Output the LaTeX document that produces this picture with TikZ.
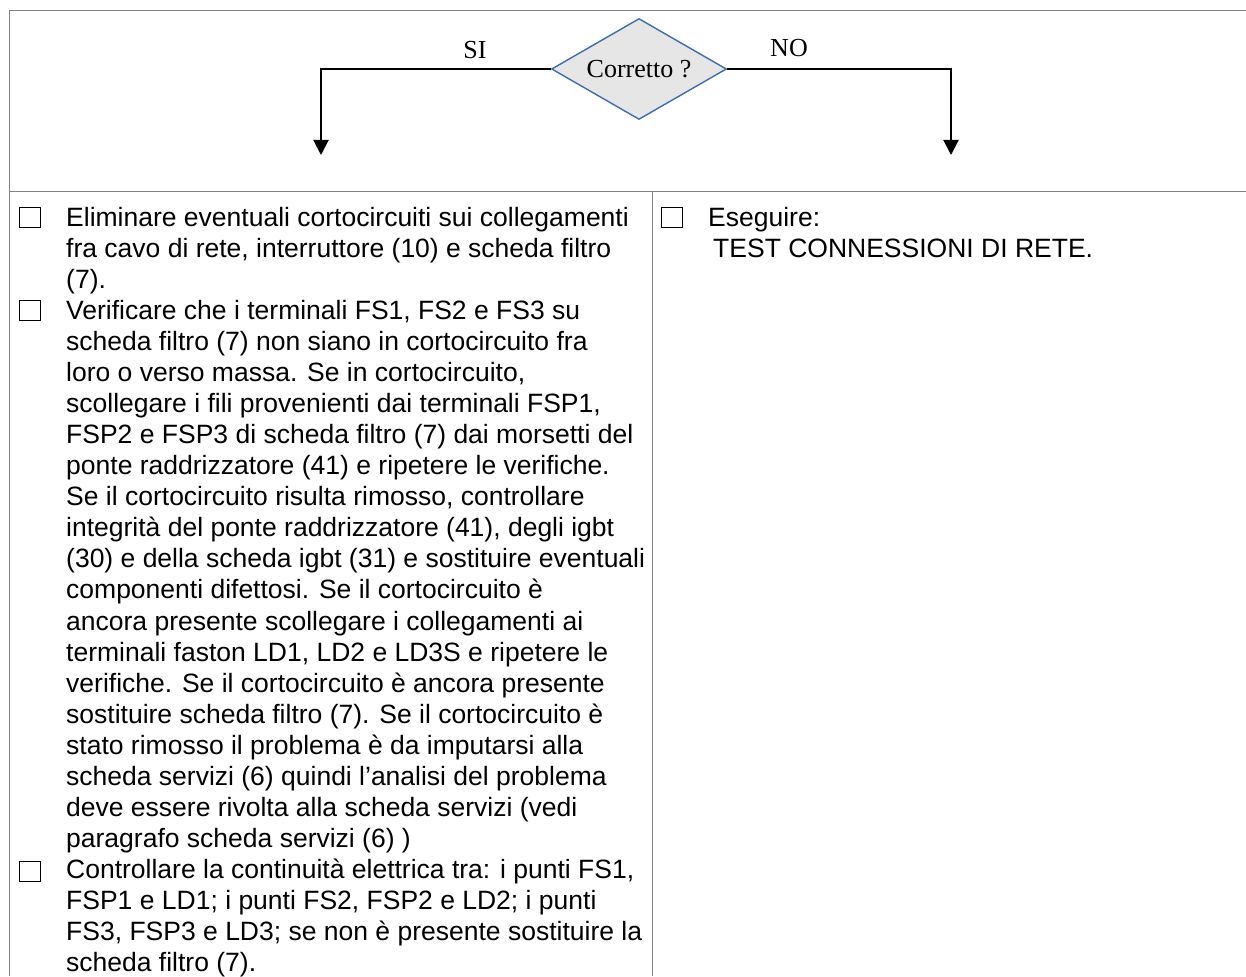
\documentclass[tikz,border=0pt]{standalone}
\usepackage{fontspec}
\setmainfont{Liberation Sans}
\newfontfamily\serifface{Liberation Serif}
\usetikzlibrary{shapes.geometric,arrows.meta}
\definecolor{framegray}{RGB}{130,130,130}
\definecolor{decblue}{RGB}{62,109,168}
\definecolor{decfill}{RGB}{230,230,230}
\begin{document}
\begin{tikzpicture}[x=1pt,y=-1pt,
  frameline/.style={draw=framegray,line width=0.9pt},
  decision/.style={diamond,aspect=1.73,draw=decblue,fill=decfill,line width=1.4pt,
    minimum width=175pt,minimum height=101pt,inner sep=0pt,
    font=\serifface\fontsize{26}{30}\selectfont},
  branchlabel/.style={font=\serifface\fontsize{26}{30}\selectfont,inner sep=0pt},
  flow/.style={draw=black,line width=2pt,-{Triangle[length=15pt,width=15pt]}},
  tickbox/.style={draw=black,line width=1.3pt,minimum width=21pt,minimum height=20pt,inner sep=0pt},
  bodytext/.style={anchor=base west,inner sep=0pt,font=\fontsize{26.5}{31}\selectfont}
]
\useasboundingbox (0,0) rectangle (1246,976);

% table frame
\draw[frameline] (9,976) -- (9,10) -- (1246,10);
\draw[frameline] (9,191) -- (1246,191);
\draw[frameline] (652,191) -- (652,976);

% decision and its two branches
\node[decision] (dec) at (639,69) {Corretto ?};
\coordinate (siEnd) at (321,155);
\coordinate (noEnd) at (951,155);
\draw[flow] (dec.west) -| (siEnd);
\draw[flow] (dec.east) -| (noEnd);
\node[branchlabel] (si) at (475,50) {SI};
\node[branchlabel] (no) at (789,48) {NO};

% check boxes
\node[tickbox] (c1) at (30,217.5) {};
\node[tickbox] (c2) at (30,310.5) {};
\node[tickbox] (c3) at (30,871.5) {};
\node[tickbox] (c4) at (672,217.5) {};

% left column text
\foreach \t [count=\i] in {
  {Eliminare eventuali cortocircuiti sui collegamenti},
  {fra cavo di rete, interruttore (10) e scheda filtro},
  {(7).},
  {Verificare che i terminali FS1, FS2 e FS3 su},
  {scheda filtro (7) non siano in cortocircuito fra},
  {loro o verso massa. Se in cortocircuito,},
  {scollegare i fili provenienti dai terminali FSP1,},
  {FSP2 e FSP3 di scheda filtro (7) dai morsetti del},
  {ponte raddrizzatore (41) e ripetere le verifiche.},
  {Se il cortocircuito risulta rimosso, controllare},
  {integrità del ponte raddrizzatore (41), degli igbt},
  {(30) e della scheda igbt (31) e sostituire eventuali},
  {componenti difettosi. Se il cortocircuito è},
  {ancora presente scollegare i collegamenti ai},
  {terminali faston LD1, LD2 e LD3S e ripetere le},
  {verifiche. Se il cortocircuito è ancora presente},
  {sostituire scheda filtro (7). Se il cortocircuito è},
  {stato rimosso il problema è da imputarsi alla},
  {scheda servizi (6) quindi l’analisi del problema},
  {deve essere rivolta alla scheda servizi (vedi},
  {paragrafo scheda servizi (6) )},
  {Controllare la continuità elettrica tra: i punti FS1,},
  {FSP1 e LD1; i punti FS2, FSP2 e LD2; i punti},
  {FS3, FSP3 e LD3; se non è presente sostituire la},
  {scheda filtro (7).}}
  \node[bodytext] (l\i) at (66,{226+31.08*(\i-1)}) {\t};

% right column text
\node[bodytext] (r1) at (708,226) {Eseguire:};
\node[bodytext] (r2) at (713,257) {TEST CONNESSIONI DI RETE.};
\end{tikzpicture}
\end{document}
